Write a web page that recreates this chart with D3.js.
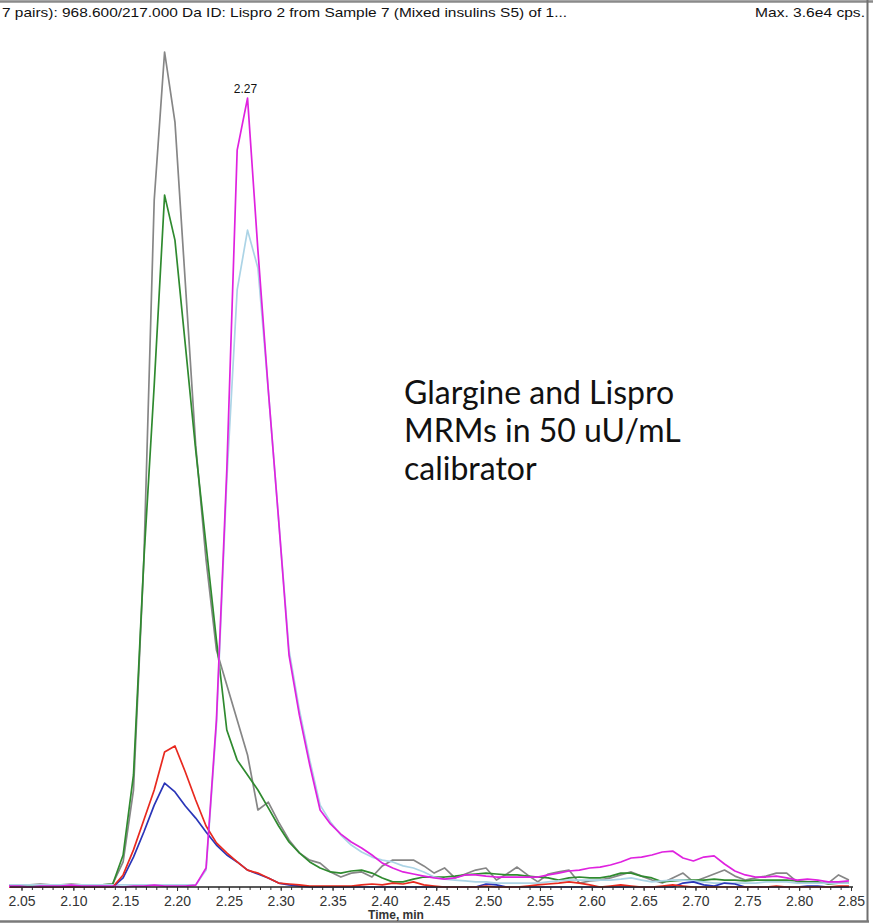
<!DOCTYPE html>
<html>
<head>
<meta charset="utf-8">
<script src="https://cdn.jsdelivr.net/npm/d3@7"></script>
<style>
html,body{margin:0;padding:0;background:#fff;}
svg{display:block;}
</style>
</head>
<body>
<svg id="chart" width="873" height="924"></svg>
<script>
// ---- data (retention time in min, intensity in cps) ----
const times = [2.038,2.048,2.058,2.068,2.078,2.088,2.098,2.108,2.118,2.128,
  2.138,2.148,2.158,2.168,2.178,2.188,2.198,2.208,2.218,2.228,
  2.238,2.248,2.258,2.268,2.278,2.288,2.298,2.308,2.318,2.328,
  2.338,2.348,2.358,2.368,2.378,2.388,2.398,2.408,2.418,2.428,
  2.438,2.448,2.458,2.468,2.478,2.488,2.498,2.508,2.518,2.528,
  2.538,2.548,2.558,2.568,2.578,2.588,2.598,2.608,2.618,2.628,
  2.638,2.648,2.658,2.668,2.678,2.688,2.698,2.708,2.718,2.728,
  2.738,2.748,2.758,2.768,2.778,2.788,2.798,2.808,2.818,2.828,
  2.838,2.848];

const grayVals = [90,90,90,130,90,90,130,90,90,90,
  130,1080,4180,14100,29620,36000,32980,26040,19050,14100,
  10220,8710,7200,5690,3320,3660,2800,2030,1470,1160,
  1030,650,430,600,650,430,910,1160,1160,1160,
  910,600,820,390,560,730,820,300,560,860,
  520,220,560,650,730,170,260,300,390,520,
  650,470,300,170,390,600,220,390,560,730,
  470,300,390,470,600,600,220,170,170,170,
  520,300];

const greenVals = [40,40,40,40,40,40,40,40,40,90,
  130,1380,4830,14100,21640,29830,27890,23370,18840,14740,
  10650,6770,5470,4830,4180,3410,2630,1940,1470,1080,
  820,650,600,690,730,600,390,220,220,340,
  430,430,430,470,520,560,600,560,520,520,
  470,430,390,300,390,430,390,390,470,600,
  600,470,390,220,260,300,300,300,340,300,
  300,260,300,300,300,300,260,220,220,130,
  170,170];

const lightBlueVals = [90,90,90,90,90,90,90,90,90,90,
  90,90,90,90,90,90,90,90,90,730,
  6980,17550,25740,28320,26690,21430,15820,10220,7630,5470,
  3530,2800,2240,1810,1510,1290,1160,1080,910,820,
  650,430,340,300,260,220,220,170,170,170,
  170,170,220,260,300,300,300,300,300,340,
  390,300,220,260,300,300,260,220,170,170,
  170,170,170,220,220,220,170,170,170,170,
  170,170];

const blueVals = [0,0,0,0,0,0,0,0,0,0,
  0,390,1290,2370,3530,4480,4100,3490,2970,2370,
  1810,1380,1080,730,560,390,170,90,40,0,
  0,0,0,0,0,0,0,0,0,0,
  0,0,0,0,0,0,130,90,0,0,
  0,0,0,0,0,0,0,0,0,0,
  0,0,0,0,0,170,220,90,40,170,
  130,0,0,0,0,0,0,40,40,0,
  0,0];

const redVals = [0,0,0,0,0,0,0,0,0,0,
  0,520,1600,2890,4180,5820,6080,4960,3750,2630,
  1900,1470,1080,730,600,390,170,130,90,40,
  40,40,40,40,90,130,90,170,130,220,
  90,40,0,0,0,0,40,0,0,0,
  40,90,130,170,220,170,90,0,40,90,
  40,0,0,40,90,40,0,0,0,0,
  0,0,0,0,40,0,0,0,0,0,
  40,40];

const magentaVals = [40,40,0,40,40,40,80,40,40,40,
  40,0,40,40,80,40,40,40,80,820,
  7200,17980,31770,34010,27460,21430,15820,10000,7410,5260,
  3320,2720,2280,1940,1680,1380,1030,820,650,560,
  470,390,340,390,520,520,470,430,430,430,
  430,430,520,600,690,730,820,860,950,1080,
  1250,1290,1380,1510,1550,1250,1120,1290,1340,990,
  690,520,430,430,470,390,300,340,300,220,
  220,260];

const tickValues = [2.05,2.10,2.15,2.20,2.25,2.30,2.35,2.40,2.45,2.50,2.55,2.60,2.65,2.70,2.75,2.80,2.85];
const tickLabels = ["2.05","2.10","2.15","2.20","2.25","2.30","2.35","2.40","2.45","2.50","2.55","2.60","2.65","2.70","2.75","2.80","2.85"];

const seriesNames = ["Glargine MRM 1","Glargine MRM 2","Lispro MRM 1","Glargine MRM 3","Glargine MRM 4","Lispro MRM 2"];
const seriesColors = ["#868686","#2f8a2f","#acd4e6","#2a35b8","#e8291f","#df22df"];

const titleText = "7 pairs): 968.600/217.000 Da ID: Lispro 2 from Sample 7 (Mixed insulins S5) of 1...";
const maxText = "Max. 3.6e4 cps.";
const peakLabel = {t: 2.268, v: 34010, text: "2.27"};
const noteLines = ["Glargine and Lispro","MRMs in 50 uU/mL","calibrator"];

// ---- drawing ----
const svg = d3.select("#chart");
const W = 873, H = 924;

const x = d3.scaleLinear().domain([2.05, 2.85]).range([21.5, 851]);
const y = d3.scaleLinear().domain([0, 36000]).range([887, 52]);

svg.append("rect").attr("width", W).attr("height", H).attr("fill", "#fff");

// frame
svg.append("line").attr("x1", 0).attr("x2", 873).attr("y1", 1.5).attr("y2", 1.5)
  .attr("stroke", "#8a8a8a").attr("stroke-width", 2.5);
svg.append("line").attr("x1", 867.5).attr("x2", 867.5).attr("y1", 0).attr("y2", 922)
  .attr("stroke", "#6f6f6f").attr("stroke-width", 2);
svg.append("line").attr("x1", 0).attr("x2", 869).attr("y1", 921.5).attr("y2", 921.5)
  .attr("stroke", "#7a7a7a").attr("stroke-width", 2.5);

// title
svg.append("text").attr("x", 2).attr("y", 17)
  .attr("font-family", "Liberation Sans, Arial, sans-serif").attr("font-size", 13)
  .attr("fill", "#111").attr("textLength", 565).attr("lengthAdjust", "spacingAndGlyphs")
  .text(titleText);
svg.append("text").attr("x", 865).attr("y", 17).attr("text-anchor", "end")
  .attr("font-family", "Liberation Sans, Arial, sans-serif").attr("font-size", 13)
  .attr("fill", "#111").attr("textLength", 110).attr("lengthAdjust", "spacingAndGlyphs")
  .text(maxText);

// series
const seriesData = [grayVals, greenVals, lightBlueVals, blueVals, redVals, magentaVals];
const line = d3.line().x((d, i) => x(times[i])).y(d => y(d));
const gLines = svg.append("g");
seriesData.forEach((vals, si) => {
  gLines.append("path").datum(vals)
    .attr("d", line)
    .attr("fill", "none")
    .attr("stroke", seriesColors[si])
    .attr("stroke-width", 1.7)
    .attr("stroke-linejoin", "round")
    .append("title").text(seriesNames[si]);
});

// x axis
const gx = svg.append("g").attr("transform", "translate(0,887)");
const minorAxis = d3.axisBottom(x).ticks(80).tickSize(3).tickFormat("");
gx.append("g").call(minorAxis).call(g => {
  g.select(".domain").remove();
  g.selectAll("line").attr("stroke", "#333").attr("stroke-width", 1);
});
const majorAxis = d3.axisBottom(x).tickValues(tickValues)
  .tickFormat((d, i) => tickLabels[i]).tickSize(4).tickPadding(5);
gx.append("g").call(majorAxis).call(g => {
  g.select(".domain").attr("d", "M10,0H853").attr("stroke", "#222").attr("stroke-width", 1.6);
  g.selectAll("line").attr("stroke", "#333");
  g.selectAll("text").attr("font-family", "Liberation Sans, Arial, sans-serif")
    .attr("font-size", 14).attr("fill", "#333");
});

svg.append("text").attr("x", 396).attr("y", 919).attr("text-anchor", "middle")
  .attr("font-family", "Liberation Sans, Arial, sans-serif").attr("font-size", 12)
  .attr("font-weight", "bold").attr("fill", "#333").text("Time, min");

// peak label
svg.append("text").attr("x", x(peakLabel.t) - 2).attr("y", y(peakLabel.v) - 5)
  .attr("text-anchor", "middle")
  .attr("font-family", "Liberation Sans, Arial, sans-serif").attr("font-size", 12)
  .attr("fill", "#111").text(peakLabel.text);

// annotation
const note = svg.append("text").attr("font-family", "Lato, 'Open Sans', sans-serif")
  .attr("font-size", 32).attr("fill", "#111");
noteLines.forEach((t, i) => {
  note.append("tspan").attr("x", 404).attr("y", 404 + i * 38).text(t);
});
</script>
</body>
</html>
